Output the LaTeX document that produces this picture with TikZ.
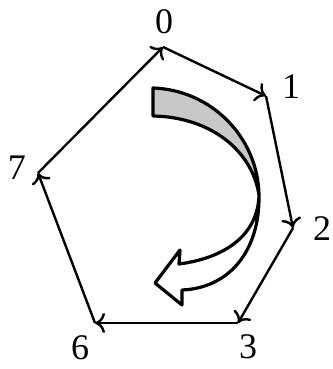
\documentclass[tikz,border=0pt]{standalone}
\usepackage{fontspec}
\setmainfont{Liberation Serif}
\usetikzlibrary{arrows.meta}
\begin{document}
\begin{tikzpicture}[x=1pt,y=-1pt,
  edge/.style={line width=2.4pt,-{To[length=10pt,width=20pt]}},
  lbl/.style={inner sep=0pt,font=\fontsize{36}{36}\selectfont},
  bandline/.style={line width=3.2pt,line join=round}]
\useasboundingbox (0,0) rectangle (332,369);
\coordinate (v0) at (163,47);
\coordinate (v1) at (266,96);
\coordinate (v2) at (293,228);
\coordinate (v3) at (238,323);
\coordinate (v6) at (95,323);
\coordinate (v7) at (38,173);
\node[lbl] (l0) at (164,22) {0};
\node[lbl] (l1) at (291,87) {1};
\node[lbl] (l2) at (322,229) {2};
\node[lbl] (l3) at (248,347) {3};
\node[lbl] (l6) at (80,348) {6};
\node[lbl] (l7) at (17,168) {7};
\draw[edge] (v0) -- (v1);
\draw[edge] (v1) -- (v2);
\draw[edge] (v2) -- (v3);
\draw[edge] (v3) -- (v6);
\draw[edge] (v6) -- (v7);
\draw[edge] (v7) -- (v0);
% twisted block arrow
\fill[fill={rgb,255:red,200;green,200;blue,200}]
  (153,88) .. controls (212,90) and (258,138) .. (259,195)
  .. controls (252,150) and (210,117) .. (153,116) -- cycle;
\draw[bandline]
  (153,88) .. controls (212,90) and (258,138) .. (259,195)
  .. controls (260,250) and (230,288) .. (182,290)
  -- (182,305) -- (155,283) -- (180,250) -- (179,264)
  .. controls (225,258) and (258,235) .. (259,195)
  .. controls (252,150) and (210,117) .. (153,116) -- cycle;
\end{tikzpicture}
\end{document}
